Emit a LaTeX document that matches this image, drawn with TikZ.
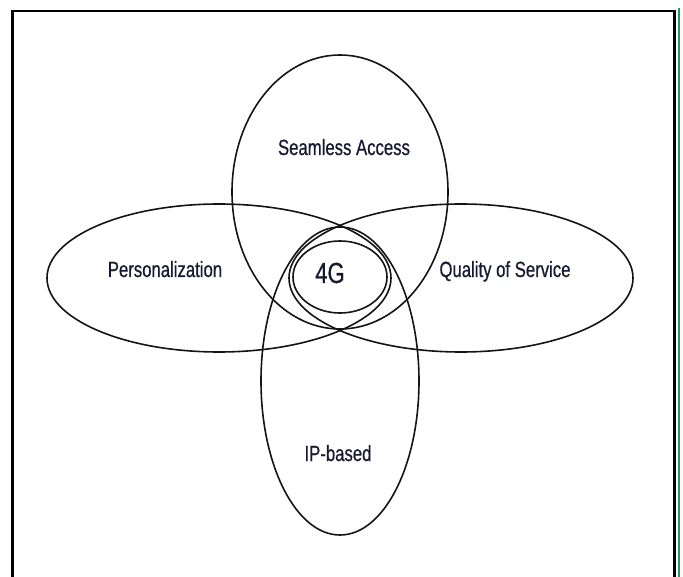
\documentclass[tikz,border=0pt]{standalone}
\usepackage{fontspec}
\setmainfont{Liberation Sans}
\newfontfamily\narrowfont[FakeStretch=0.76, FakeBold=0.6]{Liberation Sans}
\definecolor{labelink}{RGB}{22,25,48}
\definecolor{edgegreen}{RGB}{40,150,90}

\begin{document}
\begin{tikzpicture}[
            x=1pt, y=-1pt,
            ring/.style={draw=black!92, line width=1.6pt},
            area label/.style={font=\narrowfont\fontsize{22}{22}\selectfont, text=labelink, inner sep=0pt, anchor=base},
            core label/.style={area label, font=\narrowfont\fontsize{29}{29}\selectfont},
            frame line/.style={draw=black, line width=2.8pt},
            ]
            \useasboundingbox (0,0) rectangle (683,577);
            \def\midx{340}

            % frame
            \draw[frame line] (12.5,577) -- (12.5,11) -- (674.5,11) -- (674.5,577);
            \draw[edgegreen, line width=1.6pt] (679,8) -- (679,577);

            % circles
            \coordinate (access) at (\midx,192);
            \coordinate (person) at (\midx-121,278);
            \coordinate (quality) at (\midx+121,278);
            \coordinate (ip) at (\midx,381);
            \coordinate (core) at (\midx,277);

            \draw[ring] (access) ellipse [x radius=108, y radius=137];
            \draw[ring] (person) ellipse [x radius=172, y radius=74];
            \draw[ring] (quality) ellipse [x radius=172, y radius=74];
            \draw[ring] (ip) ellipse [x radius=79, y radius=154];
            \draw[ring] (core) ellipse [x radius=47, y radius=36];

            % labels
            \node[area label] (accesstext) at (344,155) {Seamless Access};
            \node[area label] (persontext) at (165,277) {Personalization};
            \node[area label] (qualitytext) at (505,277) {Quality of Service};
            \node[area label] (iptext) at (338,461) {IP-based};
            \node[core label] (coretext) at (330,283) {4G};
        \end{tikzpicture}
\end{document}
